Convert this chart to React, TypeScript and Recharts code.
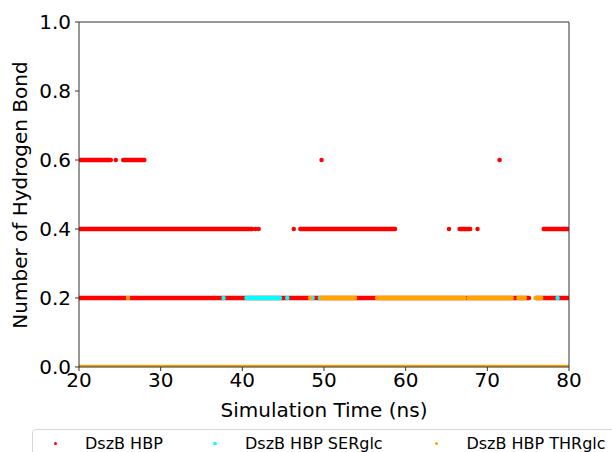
import { ComposedChart, XAxis, YAxis, ReferenceLine } from 'recharts';

type Run = [number, number];

const xTicks = [20, 30, 40, 50, 60, 70, 80];
const yTicks = [0, 0.2, 0.4, 0.6, 0.8, 1.0];

// time spans (ns) where each series sits on a given H-bond count; [t, t] is a single frame
// (the level-0 baseline is covered by THRglc, so only that one is drawn there)
const hbpAt02: Run[] = [[20, 75.1], [76.0, 80]];
const hbpAt04: Run[] = [
  [20, 41.2], [41.6, 41.6], [42.0, 42.0], [46.3, 46.3], [47.1, 58.7],
  [65.3, 65.3], [66.6, 67.9], [68.8, 68.8], [76.9, 80],
];
const hbpAt06: Run[] = [[20, 23.9], [24.5, 24.5], [25.4, 28.0], [49.7, 49.7], [71.5, 71.5]];

const serAt02: Run[] = [
  [37.7, 37.7], [40.5, 44.6], [45.5, 45.5], [48.6, 48.6], [49.5, 49.5], [78.6, 78.6],
];

const thrAt00: Run[] = [[20, 80]];
const thrAt02: Run[] = [
  [26.0, 26.0], [48.3, 48.3], [49.7, 53.8], [56.5, 67.2], [67.7, 73.0],
  [73.8, 74.6], [75.9, 76.6],
];

const seriesNames = ['DszB HBP', 'DszB HBP SERglc', 'DszB HBP THRglc'];
const seriesColors = ['#ff0000', '#00ffff', '#ffa500'];

const series = [
  { name: seriesNames[0], color: seriesColors[0], levels: [[0.2, hbpAt02], [0.4, hbpAt04], [0.6, hbpAt06]] as [number, Run[]][] },
  { name: seriesNames[1], color: seriesColors[1], levels: [[0.2, serAt02]] as [number, Run[]][] },
  { name: seriesNames[2], color: seriesColors[2], levels: [[0, thrAt00], [0.2, thrAt02]] as [number, Run[]][] },
];

const font = 'DejaVu Sans, sans-serif';
const axisColor = '#333';
const tickStyle = { fontSize: 20, fontFamily: font, fill: '#000' };

const legendX = [55.4, 215, 436.4];
const legendTextX = [85, 245, 466.4];
const legendY = 442.5;

export default function App() {
  return (
    <div style={{ position: 'fixed', left: 0, top: 0, width: 612, height: 452, overflow: 'hidden', background: '#fff', fontFamily: font }}>
      <ComposedChart width={612} height={452} margin={{ top: 22, right: 43, bottom: 55, left: 9 }}>
        <XAxis
          type="number"
          dataKey="x"
          domain={[20, 80]}
          ticks={xTicks}
          allowDataOverflow
          height={30}
          tickSize={4}
          tickMargin={2}
          tick={tickStyle}
          stroke={axisColor}
        />
        <YAxis
          type="number"
          dataKey="y"
          domain={[0, 1]}
          ticks={yTicks}
          allowDataOverflow
          width={70}
          tickSize={4}
          tickMargin={4}
          tick={tickStyle}
          tickFormatter={(v: number) => v.toFixed(1)}
          stroke={axisColor}
        />
        {series.flatMap((s) =>
          s.levels.flatMap(([y, runs]) =>
            runs.map(([a, b], i) => (
              <ReferenceLine
                key={`${s.name}-${y}-${i}`}
                segment={[{ x: a, y }, { x: b, y }]}
                stroke={s.color}
                strokeWidth={4.5}
                strokeLinecap="round"
                ifOverflow="hidden"
              />
            ))
          )
        )}
        <ReferenceLine y={1} stroke={axisColor} />
        <ReferenceLine x={80} stroke={axisColor} />
      </ComposedChart>

      <div style={{ position: 'absolute', left: 20, top: 194.5, transform: 'translate(-50%, -50%) rotate(-90deg)', fontSize: 20, whiteSpace: 'nowrap', color: '#000' }}>
        Number of Hydrogen Bond
      </div>
      <div style={{ position: 'absolute', left: 324, top: 410, transform: 'translate(-50%, -50%)', fontSize: 20, whiteSpace: 'nowrap', color: '#000' }}>
        Simulation Time (ns)
      </div>

      <div style={{ position: 'absolute', left: 32, top: 428.5, width: 640, height: 40, border: '1px solid #d6d6d6', borderRadius: 4, background: '#fff' }} />
      {series.map((s, i) => (
        <div key={s.name}>
          <div style={{ position: 'absolute', left: legendX[i] - 1.75, top: legendY + 1 - 1.75, width: 3.5, height: 3.5, borderRadius: 2, background: s.color }} />
          <div style={{ position: 'absolute', left: legendTextX[i], top: legendY, transform: 'translateY(-50%)', fontSize: 16, whiteSpace: 'nowrap', color: '#000' }}>
            {s.name}
          </div>
        </div>
      ))}
    </div>
  );
}
